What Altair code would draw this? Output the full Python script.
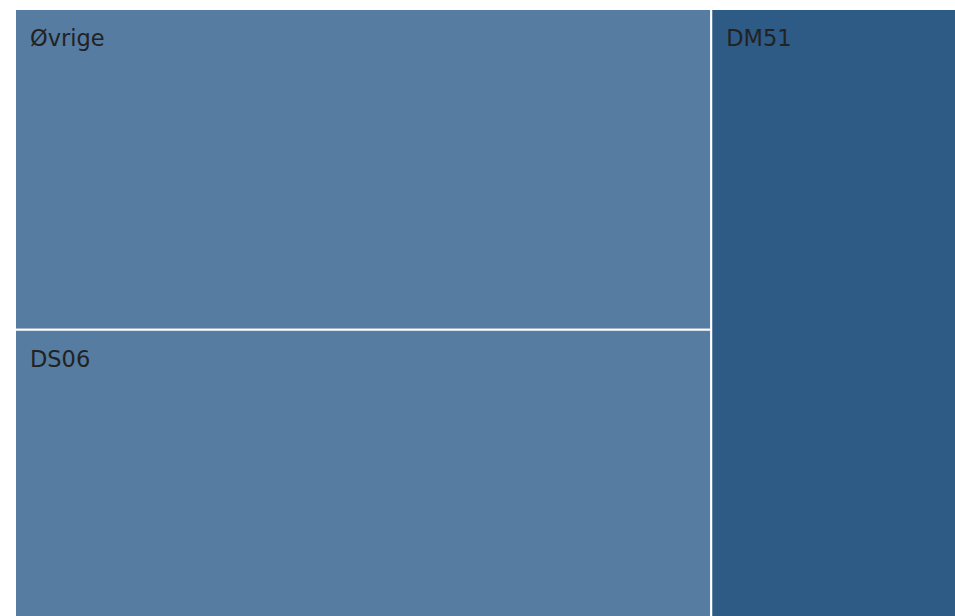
import altair as alt
import pandas as pd

# Treemap data
labels = ["Øvrige", "DS06", "DM51"]
values = [385, 351, 264]
colors = ["#567ca1", "#567ca1", "#2e5a86"]

# Simple slice-and-dice layout computed from the values
total = sum(values)
left = values[0] + values[1]
xsplit = left / total
ysplit = values[0] / left
rects = [
    (0.0, xsplit, 0.0, ysplit),
    (0.0, xsplit, ysplit, 1.0),
    (xsplit, 1.0, 0.0, 1.0),
]
df = pd.DataFrame({
    "label": labels,
    "value": values,
    "color": colors,
    "x0": [r[0] for r in rects],
    "x1": [r[1] for r in rects],
    "y0": [r[2] for r in rects],
    "y1": [r[3] for r in rects],
})

# treemap continues slightly past the visible window on the right and bottom
xs = alt.Scale(domain=[0, 1], nice=False, zero=False, range=[0, 946])
ys = alt.Scale(domain=[0, 1], nice=False, zero=False, range=[0, 613])

base = alt.Chart(df)
rect = base.mark_rect(stroke="white", strokeWidth=2).encode(
    x=alt.X("x0:Q", scale=xs, axis=None),
    x2="x1:Q",
    y=alt.Y("y0:Q", scale=ys, axis=None),
    y2="y1:Q",
    color=alt.Color("color:N", scale=None, legend=None),
    tooltip=["label:N", "value:Q"],
)
text = base.mark_text(
    align="left", baseline="alphabetic", dx=15, dy=37,
    font="DejaVu Sans", fontSize=22.5, color="#222222",
).encode(
    x=alt.X("x0:Q", scale=xs, axis=None),
    y=alt.Y("y0:Q", scale=ys, axis=None),
    text="label:N",
)

chart = (rect + text).properties(
    width=940, height=607,
    padding={"left": 15, "top": 9, "right": 0, "bottom": 0},
    autosize="none",
).configure_view(strokeWidth=0)

chart.save("out.html", embed_options={"renderer": "svg", "actions": False})
